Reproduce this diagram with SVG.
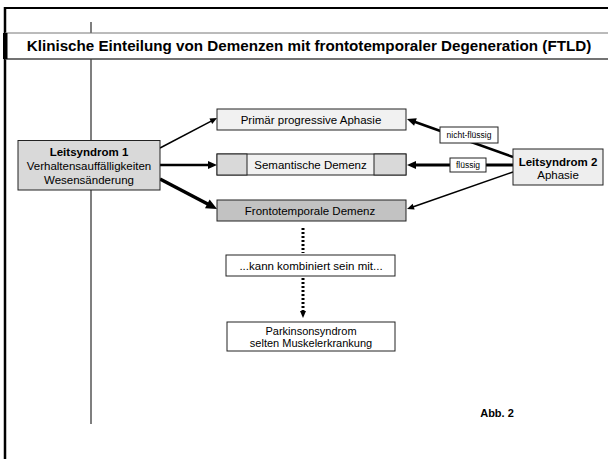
<svg xmlns="http://www.w3.org/2000/svg" width="608" height="459" viewBox="0 0 608 459">
<style>
text{font-family:"Liberation Sans",Arial,sans-serif;fill:#000;text-anchor:middle}
.b{font-weight:bold}
.box{stroke:#222;stroke-width:1}
.lbl{fill:#fff;stroke:#222;stroke-width:1}
.con{stroke:#000;fill:none}
.dot{stroke:#000;stroke-width:3;stroke-dasharray:2 2;fill:none}
</style>
<defs>
<marker id="mS" viewBox="-2 -4 9 8" refX="0" refY="0" markerWidth="9" markerHeight="8" markerUnits="userSpaceOnUse" orient="auto"><path d="M-1,-3 L6,0 L-1,3 z" fill="#000"/></marker>
<marker id="mM" viewBox="-2 -5 11 10" refX="0" refY="0" markerWidth="11" markerHeight="10" markerUnits="userSpaceOnUse" orient="auto"><path d="M-1,-4 L8,0 L-1,4 z" fill="#000"/></marker>
<marker id="mL" viewBox="-2 -6 13 12" refX="0" refY="0" markerWidth="13" markerHeight="12" markerUnits="userSpaceOnUse" orient="auto"><path d="M-1,-5 L10,0 L-1,5 z" fill="#000"/></marker>
</defs>
<rect x="0" y="0" width="608" height="459" fill="#fff"/>
<g id="frame">
<line x1="4" y1="8" x2="608" y2="8" stroke="#000" stroke-width="2"/>
<line x1="5" y1="7" x2="5" y2="459" stroke="#000" stroke-width="2.5"/>
<line x1="91" y1="22" x2="91" y2="424" stroke="#555" stroke-width="1.5"/>
</g>
<g id="title">
<rect x="5" y="33" width="603" height="26" fill="#fff"/>
<line x1="5" y1="33" x2="608" y2="33" stroke="#777" stroke-width="1"/>
<line x1="5" y1="59" x2="608" y2="59" stroke="#444" stroke-width="1.5"/>
<rect x="3" y="33" width="4.5" height="26" fill="#000"/>
<text class="b" x="309" y="51" font-size="15.2">Klinische Einteilung von Demenzen mit frontotemporaler Degeneration (FTLD)</text>
</g>
<g id="connectors">
<line class="con" x1="160" y1="148" x2="211.7" y2="120.8" stroke-width="1.5" marker-end="url(#mS)"/>
<line class="con" x1="160" y1="165" x2="209" y2="165" stroke-width="2.5" marker-end="url(#mM)"/>
<line class="con" x1="160" y1="179" x2="208.2" y2="204.3" stroke-width="3.5" marker-end="url(#mL)"/>
<line class="con" x1="513" y1="157" x2="414.5" y2="121.7" stroke-width="2.5" marker-end="url(#mM)"/>
<line class="con" x1="513" y1="165" x2="415" y2="165" stroke-width="3" marker-end="url(#mM)"/>
<line class="con" x1="513" y1="172" x2="412.7" y2="207" stroke-width="1.5" marker-end="url(#mS)"/>
<line class="dot" x1="303" y1="228" x2="303" y2="253"/>
<line class="dot" x1="303" y1="278" x2="303" y2="312" marker-end="url(#mS)"/>
</g>
<g id="label-nichtfluessig">
<rect class="lbl" x="440" y="127" width="58" height="16"/>
<text x="469" y="138" font-size="8.5">nicht-flüssig</text>
</g>
<g id="label-fluessig">
<rect class="lbl" x="450" y="158" width="36" height="14"/>
<text x="468" y="168" font-size="8.5">flüssig</text>
</g>
<g id="leitsyndrom1">
<rect class="box" x="18" y="140.5" width="142" height="49.5" fill="#d9d9d9"/>
<text class="b" x="89" y="156" font-size="11.5">Leitsyndrom 1</text>
<text x="89" y="170" font-size="11.5">Verhaltensauffälligkeiten</text>
<text x="89" y="184" font-size="11.5">Wesensänderung</text>
</g>
<g id="leitsyndrom2">
<rect class="box" x="513" y="149" width="90" height="36" fill="#eeeeee"/>
<text class="b" x="558" y="166" font-size="11.5">Leitsyndrom 2</text>
<text x="558" y="179" font-size="11.5">Aphasie</text>
</g>
<g id="ppa">
<rect class="box" x="217" y="109" width="189" height="21" fill="#f1f1f1"/>
<text x="311" y="123.5" font-size="11.5">Primär progressive Aphasie</text>
</g>
<g id="semantische">
<rect class="box" x="217" y="154" width="189" height="21" fill="#f1f1f1"/>
<rect class="box" x="217" y="154" width="30" height="21" fill="#d9d9d9"/>
<rect class="box" x="374" y="154" width="32" height="21" fill="#d9d9d9"/>
<text x="310.5" y="168.5" font-size="11.5">Semantische Demenz</text>
</g>
<g id="ftd">
<rect class="box" x="217" y="200" width="189" height="21" fill="#c2c2c2"/>
<text x="310" y="214.5" font-size="11.5">Frontotemporale Demenz</text>
</g>
<g id="kombiniert">
<rect class="box" x="226" y="255" width="169" height="21" fill="#fff"/>
<text x="311" y="269.5" font-size="11.5">...kann kombiniert sein mit...</text>
</g>
<g id="parkinson">
<rect class="box" x="227" y="322" width="168" height="29" fill="#fff"/>
<text x="311" y="334.5" font-size="11">Parkinsonsyndrom</text>
<text x="311" y="346.5" font-size="11">selten Muskelerkrankung</text>
</g>
<g id="abb">
<text class="b" x="497" y="417" font-size="11">Abb. 2</text>
</g>
</svg>
